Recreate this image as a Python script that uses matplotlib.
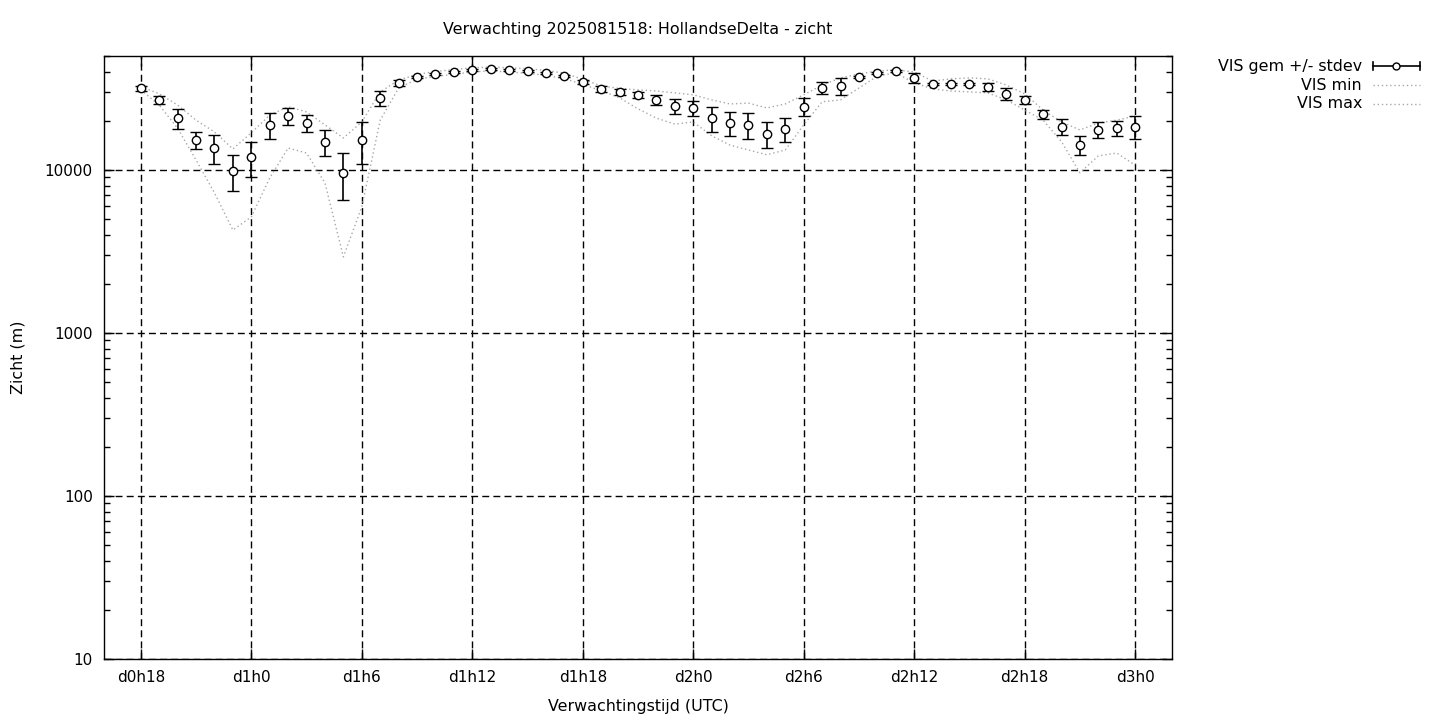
import matplotlib
matplotlib.use("Agg")
import matplotlib.pyplot as plt
from matplotlib.lines import Line2D
from matplotlib.ticker import LogLocator, NullFormatter, FixedLocator, FixedFormatter

plt.rcParams['font.family'] = ['DejaVu Sans']

hours = list(range(18, 73))
vis_mean = [31800, 26900, 20800, 15300, 13600, 9900, 12000, 18900, 21400, 19400,
            14900, 9600, 15300, 27700, 34200, 37200, 38800, 39900, 41100, 41700,
            41000, 40500, 39400, 37700, 34700, 31400, 30100, 28900, 26900, 24700,
            24000, 20800, 19400, 18900, 16600, 17900, 24400, 31800, 32700, 37200,
            39400, 40500, 36700, 33700, 33700, 33700, 32300, 29300, 26900, 22000,
            18400, 14200, 17600, 18100, 18400]
vis_sd = [1100, 1500, 2900, 1800, 2800, 2500, 2900, 3400, 2600, 2300,
          2700, 3100, 4500, 2900, 1400, 500, 400, 400, 400, 400,
          400, 400, 500, 600, 900, 1200, 1200, 1300, 1900, 2600,
          2500, 3700, 3300, 3400, 3000, 3000, 3100, 2700, 3700, 700,
          500, 500, 2600, 600, 600, 600, 2000, 2500, 1500, 1400,
          2000, 1900, 2000, 2000, 3000]
vis_max = [32500, 29300, 25000, 20200, 17100, 13450, 16900, 21700, 24400, 22700,
           18900, 15700, 19700, 30100, 35600, 38500, 40200, 41300, 42300, 42800,
           42300, 41800, 40800, 39200, 36000, 32800, 31600, 31000, 30500, 29700,
           28900, 26900, 25400, 25700, 24000, 25400, 28900, 33200, 36700, 38800,
           40500, 41100, 39900, 35100, 36200, 36700, 36200, 33200, 29300, 23300,
           19700, 17600, 19400, 20200, 21400]
vis_min = [31000, 25000, 18000, 11500, 7230, 4280, 5150, 8930, 13640, 12700,
           8320, 2930, 5930, 20200, 31800, 36000, 37500, 38600, 39900, 40500,
           39800, 39200, 38000, 36300, 33500, 30600, 27700, 23700, 20800, 19100,
           19700, 16200, 14200, 13250, 12400, 13250, 18900, 26200, 26900, 31800,
           37700, 39400, 34200, 31400, 30500, 30100, 29700, 26900, 23300, 20200,
           14900, 9600, 12200, 12700, 10700]
xtick_hours = [18, 24, 30, 36, 42, 48, 54, 60, 66, 72]
xtick_labels = ["d%dh%d" % (h // 24, h % 24) for h in xtick_hours]
ytick_vals = [10, 100, 1000, 10000]
ytick_labels = ["10", "100", "1000", "10000"]

fig = plt.figure(figsize=(14.4, 7.2), dpi=100)
W, H = 1440, 720
ax = fig.add_axes([104 / W, 1 - 659 / H, (1172 - 104) / W, (659 - 56) / H])

ax.set_yscale('log')
ax.set_xlim(16, 74)
ax.set_ylim(10, 50000)

gray = '#a8a8a8'
ax.plot(hours, vis_min, linestyle=(0, (1, 2)), color=gray, lw=1.0, zorder=2)
ax.plot(hours, vis_max, linestyle=(0, (1, 2)), color=gray, lw=1.0, zorder=2)
ax.errorbar(hours, vis_mean, yerr=vis_sd, fmt='o', color='black', ecolor='black',
            elinewidth=1.2, capsize=4, capthick=1.2, markersize=6,
            markerfacecolor='white', markeredgecolor='black', markeredgewidth=1.0,
            zorder=3)

ax.xaxis.set_major_locator(FixedLocator(xtick_hours))
ax.xaxis.set_major_formatter(FixedFormatter(xtick_labels))
ax.yaxis.set_major_locator(FixedLocator(ytick_vals))
ax.yaxis.set_major_formatter(FixedFormatter(ytick_labels))
ax.yaxis.set_minor_locator(LogLocator(base=10, subs=range(2, 10)))
ax.yaxis.set_minor_formatter(NullFormatter())

ax.tick_params(which='both', direction='in', top=True, right=True, labelsize=11,
               colors='black')
ax.tick_params(which='major', length=7, width=1)
ax.tick_params(which='minor', length=4, width=1)
ax.tick_params(axis='x', pad=8)
ax.tick_params(axis='y', pad=8)
ax.grid(True, which='major', color='black', linestyle=(0, (5, 3)), linewidth=1.0)
for s in ax.spines.values():
    s.set_linewidth(1.0)

ax.set_xlabel("Verwachtingstijd (UTC)", fontsize=11.4, labelpad=10)
ax.set_ylabel("Zicht (m)", fontsize=11.4, labelpad=14)
ax.set_title("Verwachting 2025081518: HollandseDelta - zicht", fontsize=11.4, pad=16)

# legend, drawn in figure pixel coordinates
def fx(px):
    return px / W

def fy(py):
    return 1 - py / H

entries = ["VIS gem +/- stdev", "VIS min", "VIS max"]
rows = [66, 85, 104]
for txt, ry in zip(entries, rows):
    fig.text(fx(1362), fy(ry), txt, ha='right', va='center', fontsize=11.4)
# errorbar handle
r = rows[0]
fig.add_artist(Line2D([fx(1373), fx(1420)], [fy(r), fy(r)], color='black', lw=1.2))
fig.add_artist(Line2D([fx(1373), fx(1373)], [fy(r - 4), fy(r + 4)], color='black', lw=1.2))
fig.add_artist(Line2D([fx(1420), fx(1420)], [fy(r - 4), fy(r + 4)], color='black', lw=1.2))
fig.add_artist(Line2D([fx(1396)], [fy(r)], marker='o', markersize=5,
                      markerfacecolor='white', markeredgecolor='black', lw=0))
for ry in rows[1:]:
    fig.add_artist(Line2D([fx(1373), fx(1420)], [fy(ry), fy(ry)], color=gray,
                          lw=1.0, linestyle=(0, (1, 2))))

fig.savefig("out.png", dpi=100)
